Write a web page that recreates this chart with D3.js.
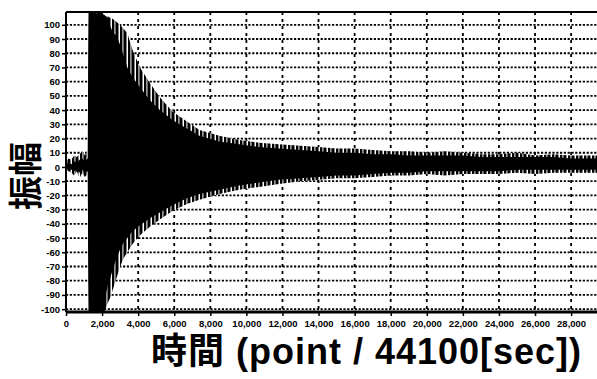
<!DOCTYPE html>
<html>
<head>
<meta charset="utf-8">
<script src="https://cdn.jsdelivr.net/npm/d3@7"></script>
<style>
  body { margin: 0; background: #fff; }
  svg { display: block; }
</style>
</head>
<body>
<div id="chart"></div>
<script>
const samplePos = [0, 150, 300, 450, 600, 750, 900, 1050, 1200, 1260, 1300, 1500, 1700, 1900, 2100, 2200, 2300, 2450, 2600, 2800, 3000, 3200, 3400, 3700, 4100, 4650, 5200, 5900, 6700, 7400, 8500, 9600, 10700, 11800, 13000, 14000, 15000, 16000, 17000, 18000, 19000, 20000, 21000, 22000, 23000, 24000, 25000, 26000, 27000, 28000, 29000, 29435];
const upperPeak = [4, 6, 5, 8, 7, 9, 11, 8, 12, 109, 109, 109, 108, 109, 107, 106, 106, 105, 104, 102, 100, 97, 94, 82, 70, 59, 49, 39, 32, 26, 22, 19, 17, 16, 15, 14, 13, 13, 12, 11, 11, 10, 11, 10, 9, 9, 10, 8, 9, 8, 8, 8];
const upperCore = [2, 3, 2, 4, 3, 5, 6, 4, 6, 109, 109, 109, 108, 109, 107, 106, 105, 99, 95, 92, 86, 78, 70, 63, 56, 47, 40, 33, 27, 22, 18, 16, 14, 13, 12, 11, 10, 10, 9, 9, 8, 8, 8, 8, 7, 7, 7, 7, 7, 6, 6, 6];
const lowerCore = [-1, -2, -2, -3, -2, -4, -2, -4, -3, -102, -102, -102, -102, -102, -102, -90, -84, -78, -72, -64, -58, -53, -50, -45, -41, -36, -32, -27, -22, -19, -16, -13, -11, -9, -8, -7, -6, -6, -5, -4, -4, -3, -3, -3, -3, -3, -2, -2, -2, -2, -2, -2];
const lowerPeak = [-2, -3, -4, -6, -3, -8, -4, -7, -5, -102, -102, -102, -102, -102, -102, -100, -96, -92, -86, -78, -70, -64, -60, -54, -48, -42, -37, -31, -26, -23, -19, -16, -14, -12, -10, -9, -8, -8, -7, -6, -6, -5, -6, -5, -5, -5, -4, -5, -4, -4, -4, -4];

const xTicks = [0, 2000, 4000, 6000, 8000, 10000, 12000, 14000, 16000, 18000, 20000, 22000, 24000, 26000, 28000];
const yTicks = [100, 90, 80, 70, 60, 50, 40, 30, 20, 10, 0, -10, -20, -30, -40, -50, -60, -70, -80, -90, -100];
const xTitle = "時間 (point / 44100[sec])";
const yTitle = "振幅";

const graphSizes = {
    width: 597,
    height: 379,
    left: 66,
    right: 597,
    top: 12,
    bottom: 312
};

const svg = d3.select("#chart")
    .append("svg")
    .attr("width", graphSizes.width)
    .attr("height", graphSizes.height);

const xScale = d3.scaleLinear()
    .domain([0, 29435])
    .range([graphSizes.left, graphSizes.right]);

const yScale = d3.scaleLinear()
    .domain([-102, 109])
    .range([graphSizes.bottom, graphSizes.top]);

// grid
svg.append("g")
    .selectAll("line")
    .data(yTicks)
    .join("line")
    .attr("x1", graphSizes.left)
    .attr("x2", graphSizes.right)
    .attr("y1", d => yScale(d))
    .attr("y2", d => yScale(d))
    .attr("stroke", "#000")
    .attr("stroke-width", 1.8)
    .attr("stroke-dasharray", "2.2,1.6");

svg.append("g")
    .selectAll("line")
    .data(xTicks.filter(d => d > 0))
    .join("line")
    .attr("x1", d => xScale(d))
    .attr("x2", d => xScale(d))
    .attr("y1", graphSizes.top)
    .attr("y2", graphSizes.bottom)
    .attr("stroke", "#000")
    .attr("stroke-width", 1.8)
    .attr("stroke-dasharray", "3,4");

// waveform: striped outer envelope, solid core
const pattern = svg.append("defs")
    .append("pattern")
    .attr("id", "stripes")
    .attr("patternUnits", "userSpaceOnUse")
    .attr("width", 8)
    .attr("height", 10);
pattern.append("rect").attr("width", 8).attr("height", 10).attr("fill", "#fff");
pattern.append("rect").attr("x", 0).attr("width", 2.5).attr("height", 10).attr("fill", "#000");
pattern.append("rect").attr("x", 2.5).attr("width", 1).attr("height", 10).attr("fill", "#aaa");
pattern.append("rect").attr("x", 3.5).attr("width", 3).attr("height", 10).attr("fill", "#000");

const idx = samplePos.map((d, i) => i);

const outerArea = d3.area()
    .x(i => xScale(samplePos[i]))
    .y0(i => yScale(lowerPeak[i]))
    .y1(i => yScale(upperPeak[i]));

const coreArea = d3.area()
    .x(i => xScale(samplePos[i]))
    .y0(i => yScale(lowerCore[i]))
    .y1(i => yScale(upperCore[i]));

svg.append("path")
    .datum(idx)
    .attr("fill", "url(#stripes)")
    .attr("d", outerArea);

svg.append("path")
    .datum(idx)
    .attr("fill", "#000")
    .attr("d", coreArea);

// frame
svg.append("line")
    .attr("x1", graphSizes.left).attr("x2", graphSizes.right)
    .attr("y1", graphSizes.top).attr("y2", graphSizes.top)
    .attr("stroke", "#000").attr("stroke-width", 2);
svg.append("line")
    .attr("x1", graphSizes.left).attr("x2", graphSizes.left)
    .attr("y1", graphSizes.top).attr("y2", graphSizes.bottom)
    .attr("stroke", "#000").attr("stroke-width", 2);
svg.append("line")
    .attr("x1", graphSizes.left).attr("x2", graphSizes.right)
    .attr("y1", graphSizes.bottom).attr("y2", graphSizes.bottom)
    .attr("stroke", "#000").attr("stroke-width", 3);

// axes
const xAxis = d3.axisBottom(xScale)
    .tickValues(xTicks)
    .tickFormat(d3.format(","))
    .tickSize(4)
    .tickPadding(4);

const yAxis = d3.axisLeft(yScale)
    .tickValues(yTicks)
    .tickFormat(d => d)
    .tickSize(4)
    .tickPadding(2);

const gx = svg.append("g")
    .attr("transform", "translate(0," + graphSizes.bottom + ")")
    .call(xAxis);
const gy = svg.append("g")
    .attr("transform", "translate(" + graphSizes.left + ",0)")
    .call(yAxis);

[gx, gy].forEach(g => {
    g.select(".domain").remove();
    g.selectAll(".tick line").attr("stroke", "#000").attr("stroke-width", 1.5);
    g.selectAll(".tick text")
        .attr("fill", "#000")
        .style("font-family", "'Liberation Sans Narrow', 'Liberation Sans', sans-serif")
        .style("font-weight", "bold")
        .style("font-size", "9.5px");
});

// titles
svg.append("text")
    .attr("x", 151)
    .attr("y", 364)
    .attr("fill", "#000")
    .style("font-family", "'Liberation Sans', 'Noto Sans CJK JP', sans-serif")
    .style("font-weight", "bold")
    .style("font-size", "36px")
    .style("letter-spacing", "1px")
    .text(xTitle);

svg.append("text")
    .attr("transform", "translate(23,176) rotate(-90)")
    .attr("text-anchor", "middle")
    .attr("dominant-baseline", "central")
    .attr("fill", "#000")
    .style("font-family", "'Noto Sans CJK JP', sans-serif")
    .style("font-weight", "bold")
    .style("font-size", "34px")
    .text(yTitle);
</script>
</body>
</html>
